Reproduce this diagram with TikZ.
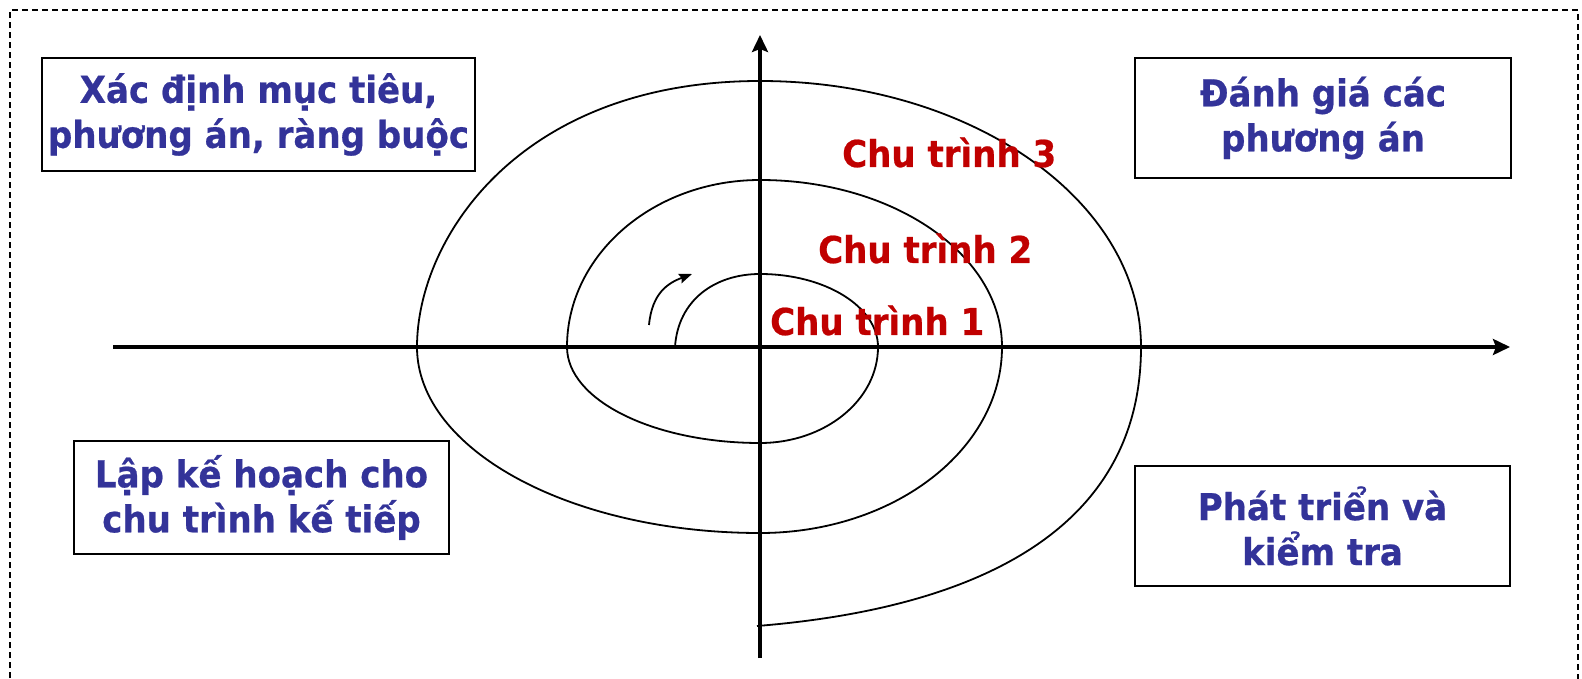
\documentclass[tikz,border=0pt]{standalone}
\usepackage{fontspec}
\usepackage{xcolor}
\usepackage{tikz}
\usetikzlibrary{positioning, arrows.meta, calc}
\newfontfamily\spiralfont{DejaVu Sans}[FakeStretch=0.92, BoldFeatures={FakeBold=0.6}]
\definecolor{phaseblue}{RGB}{51,51,153}
\definecolor{cyclered}{RGB}{192,0,0}

\begin{document}
\begin{tikzpicture}[x=1pt, y=1pt,
    phasebox/.style={draw, line width=2.2pt, rectangle, align=center, inner sep=0pt,
      text=phaseblue, font=\spiralfont\bfseries\fontsize{37}{45}\selectfont},
    cyclelabel/.style={anchor=base west, inner sep=0pt, text=cyclered,
      font=\spiralfont\bfseries\fontsize{37}{45}\selectfont},
    axisline/.style={line width=3.6pt, -{Stealth[length=17pt, width=16pt, inset=3pt]}},
    spiralline/.style={line width=1.8pt, line join=round}]
      \useasboundingbox (0, 0) rectangle (1582, 678);
      \draw[line width=1.4pt, dash pattern=on 6pt off 4pt] (10, -10) -- (10, 668) -- (1578, 668) -- (1578, -10);

      \node[phasebox, minimum width=433, minimum height=113] (goals) at (258.5, 563.5) {X\'ac định mục tiêu,\\phương án, ràng buộc};
      \node[phasebox, minimum width=376, minimum height=120] (assess) at (1323, 560) {Đánh giá các\\phương án};
      \node[phasebox, minimum width=375, minimum height=113] (plan) at (261.5, 180.5) {Lập kế hoạch cho\\chu trình kế tiếp};
      \node[phasebox, minimum width=375, minimum height=120] (build) at (1322.5, 152) {Phát triển và\\kiểm tra};

      \draw[axisline] (113, 331) -- (1510, 331);
      \draw[axisline] (760, 20) -- (760, 643);

      \draw[spiralline] (675, 331) .. controls (678, 378) and (715, 404) .. (760, 404)
        arc[start angle=90, end angle=0, x radius=118, y radius=73]
        arc[start angle=0, end angle=-90, x radius=118, y radius=96]
        arc[start angle=-90, end angle=-180, x radius=193, y radius=96]
        arc[start angle=180, end angle=90, x radius=193, y radius=167]
        arc[start angle=90, end angle=0, x radius=242, y radius=167]
        arc[start angle=0, end angle=-90, x radius=242, y radius=186]
        arc[start angle=-90, end angle=-180, x radius=343, y radius=186]
        .. controls (417, 440) and (520, 597) .. (760, 597)
        arc[start angle=90, end angle=0, x radius=381, y radius=266]
        .. controls (1141, 150) and (980, 70) .. (757, 52);
      \draw[spiralline, -{Stealth[length=13pt, width=10pt, inset=2pt]}] (649, 353) .. controls (652, 385) and (668, 395) .. (692, 404);

      \node[cyclelabel] (cycle3) at (842, 511) {Chu trình 3};
      \node[cyclelabel] (cycle2) at (818, 415) {Chu trình 2};
      \node[cyclelabel] (cycle1) at (770, 343) {Chu trình 1};
    \end{tikzpicture}
\end{document}
